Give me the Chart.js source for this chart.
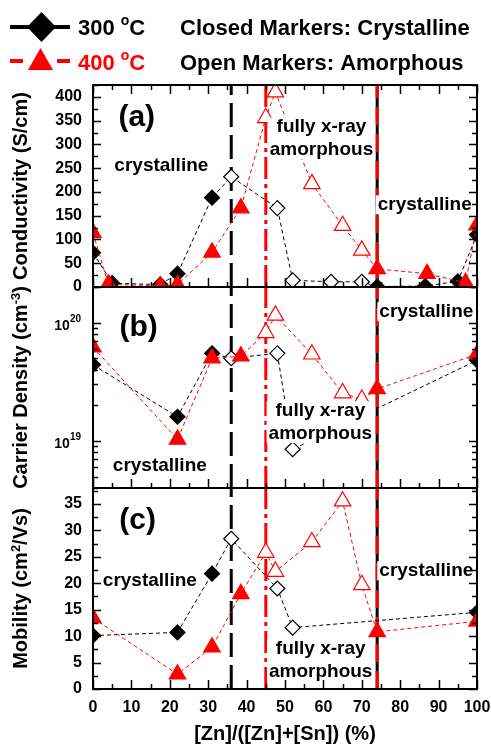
<!DOCTYPE html>
<html>
<head>
<meta charset="utf-8">
<script src="https://cdn.jsdelivr.net/npm/chart.js@4.4.1/dist/chart.umd.min.js"></script>
<style>
  html, body { margin: 0; padding: 0; background: #fff; }
  #wrap { position: relative; width: 491px; height: 746px; }
  #wrap canvas { position: absolute; left: 0; top: 0; }
</style>
</head>
<body>
<div id="wrap">
  <canvas id="panelA" width="491" height="746"></canvas>
  <canvas id="panelB" width="491" height="746"></canvas>
  <canvas id="panelC" width="491" height="746"></canvas>
</div>
<script>
const FONT = 'Arial, "Liberation Sans", sans-serif';
const RED = "#ff0000";
const BLACK = "#000000";

// [Zn]/([Zn]+[Sn]) in % for the conductivity series
const zn300 = [0, 5, 17.5, 22, 31, 36, 48, 52, 62, 70, 74, 86.5, 95, 100];
const zn400 = [0, 4, 17.5, 22, 31, 38.5, 45, 47.5, 57, 65, 70, 74, 87, 97, 100];
const conductivity300 = [72, 8, 5, 28, 188, 232, 166, 14, 11, 11, 1, 2, 12, 110];
const conductivity400 = [114, 6, 2, 5, 73, 166, 356, 410, 217, 129, 77, 38, 28, 9, 130];
// c = crystalline (closed marker), a = amorphous (open marker)
const phase300 = ["c", "c", "c", "c", "c", "a", "a", "a", "a", "a", "c", "c", "c", "c"];
const phase400 = ["c", "c", "c", "c", "c", "c", "a", "a", "a", "a", "a", "c", "c", "c", "c"];

// Hall samples
const znHall300 = [0, 22, 31, 36, 48, 52, 100];
const znHall400 = [0, 22, 31, 38.5, 45, 47.5, 57, 65, 70, 74, 100];
const density300 = [4.4e19, 1.6e19, 5.5e19, 5.0e19, 5.5e19, 8.5e18, 4.8e19];
const density400 = [6.2e19, 1.03e19, 5.0e19, 5.2e19, 8.2e19, 1.15e20, 5.4e19, 2.54e19, 2.24e19, 2.75e19, 5.4e19];
const mobility300 = [10.1, 10.7, 21.8, 28.4, 19.0, 11.6, 14.5];
const mobility400 = [13.4, 2.8, 7.9, 18.0, 25.8, 22.2, 27.8, 35.5, 19.7, 10.8, 12.8];
const phaseHall300 = ["c", "c", "c", "a", "a", "a", "c"];
const phaseHall400 = ["c", "c", "c", "c", "a", "a", "a", "a", "a", "c", "c"];

// phase boundaries (%)
const boundary300 = 36;
const boundary400 = 45;
const boundaryHigh = 74;

const xTicks = [0, 10, 20, 30, 40, 50, 60, 70, 80, 90, 100];

function points(xs, ys) {
  return xs.map((x, i) => ({ x: x, y: ys[i] }));
}

function series(xs, ys, phases, color, style, radius) {
  return {
    data: points(xs, ys),
    borderColor: color,
    borderWidth: 1,
    borderDash: [4, 3],
    pointStyle: style,
    pointRadius: radius,
    pointBorderWidth: 1.2,
    pointBorderColor: color,
    pointBackgroundColor: phases.map((p) => (p === "a" ? "#ffffff" : color)),
    tension: 0
  };
}

function vline(x, yMin, yMax, color, dash) {
  return {
    data: [{ x: x, y: yMin }, { x: x, y: yMax }],
    borderColor: color,
    borderWidth: 3,
    borderDash: dash,
    pointRadius: 0
  };
}

// text with superscript runs: [[text, isSup], ...]
function drawRuns(ctx, runs, x, y, size, supSize, supRise, align, color) {
  const widths = runs.map(([t, sup]) => {
    ctx.font = `bold ${sup ? supSize : size}px ${FONT}`;
    return ctx.measureText(t).width;
  });
  const total = widths.reduce((a, b) => a + b, 0);
  let cx = align === "center" ? x - total / 2 : align === "right" ? x - total : x;
  ctx.fillStyle = color || BLACK;
  ctx.textAlign = "left";
  ctx.textBaseline = "alphabetic";
  runs.forEach(([t, sup], i) => {
    ctx.font = `bold ${sup ? supSize : size}px ${FONT}`;
    ctx.fillText(t, cx, sup ? y - supRise : y);
    cx += widths[i];
  });
}

function drawLegend(ctx) {
  ctx.save();
  // 300 C: solid line with diamond
  ctx.strokeStyle = BLACK;
  ctx.lineWidth = 4;
  ctx.beginPath();
  ctx.moveTo(10, 27);
  ctx.lineTo(70, 27);
  ctx.stroke();
  ctx.fillStyle = BLACK;
  ctx.beginPath();
  ctx.moveTo(41.5, 12);
  ctx.lineTo(56, 27);
  ctx.lineTo(41.5, 42);
  ctx.lineTo(27, 27);
  ctx.closePath();
  ctx.fill();
  // 400 C: dashed red line with triangle
  ctx.strokeStyle = RED;
  ctx.beginPath();
  ctx.moveTo(10, 61);
  ctx.lineTo(23, 61);
  ctx.moveTo(57, 61);
  ctx.lineTo(70, 61);
  ctx.stroke();
  ctx.fillStyle = RED;
  ctx.beginPath();
  ctx.moveTo(40.5, 48);
  ctx.lineTo(53, 70);
  ctx.lineTo(28, 70);
  ctx.closePath();
  ctx.fill();

  drawRuns(ctx, [["300 ", false], ["o", true], ["C", false]], 78, 35, 22, 14, 10, "left", BLACK);
  drawRuns(ctx, [["400 ", false], ["o", true], ["C", false]], 78, 70, 22, 14, 10, "left", RED);
  drawRuns(ctx, [["Closed Markers: Crystalline", false]], 180, 35, 22, 14, 0, "left", BLACK);
  drawRuns(ctx, [["Open Markers: Amorphous", false]], 180, 70, 22, 14, 0, "left", BLACK);
  ctx.restore();
}

function decorPlugin(cfg) {
  return {
    id: "decor_" + cfg.id,
    afterDatasetsDraw(chart) {
      const { ctx, scales } = chart;
      ctx.save();
      cfg.labels.forEach((lab) => {
        const px = scales.x.getPixelForValue(lab.x);
        const py = scales.y.getPixelForValue(lab.y);
        const size = lab.size;
        const lineGap = size * 1.2;
        ctx.font = `bold ${size}px ${FONT}`;
        const w = Math.max(...lab.lines.map((l) => ctx.measureText(l).width));
        const firstCenter = py - (lineGap * (lab.lines.length - 1)) / 2;
        if (lab.box) {
          ctx.fillStyle = "#ffffff";
          ctx.fillRect(px - w / 2 - 2, firstCenter - size * 0.52,
            w + 4, lineGap * (lab.lines.length - 1) + size * 1.0);
        }
        lab.lines.forEach((l, i) => {
          drawRuns(ctx, [[l, false]], px, firstCenter + i * lineGap + size * 0.27, size, size, 0, "center", BLACK);
        });
      });
      ctx.restore();
    },
    afterDraw(chart) {
      const { ctx, chartArea: a, scales } = chart;
      const xs = scales.x;
      const ys = scales.y;
      ctx.save();
      ctx.strokeStyle = BLACK;
      ctx.lineWidth = 1.5;

      // x tick marks, inward
      const xMarks = [];
      xTicks.forEach((v, i) => {
        xMarks.push([v, true]);
        if (i < xTicks.length - 1) xMarks.push([(v + xTicks[i + 1]) / 2, false]);
      });
      ctx.beginPath();
      xMarks.forEach(([v, major]) => {
        const px = Math.round(xs.getPixelForValue(v)) + 0.5;
        const len = major ? 9 : 5;
        ctx.moveTo(px, a.bottom);
        ctx.lineTo(px, a.bottom - len);
        if (cfg.topTicks) {
          ctx.moveTo(px, a.top);
          ctx.lineTo(px, a.top + len);
        }
      });

      // y tick marks, inward on both sides
      const yMarks = [];
      if (cfg.yType === "logarithmic") {
        for (let d = 18; d <= 20; d++) {
          for (let m = 1; m <= 9; m++) {
            const v = m * Math.pow(10, d);
            if (v >= cfg.yMin && v <= cfg.yMax) yMarks.push([v, m === 1]);
          }
        }
      } else {
        for (let v = 0; v <= cfg.yMax + 1e-9; v += cfg.yStep / 2) {
          yMarks.push([v, Math.abs(v / cfg.yStep - Math.round(v / cfg.yStep)) < 1e-6]);
        }
      }
      yMarks.forEach(([v, major]) => {
        const py = Math.round(ys.getPixelForValue(v)) + 0.5;
        const len = major ? 8 : 5;
        ctx.moveTo(a.left, py);
        ctx.lineTo(a.left + len, py);
        ctx.moveTo(a.right, py);
        ctx.lineTo(a.right - len, py);
      });
      ctx.stroke();

      // frame
      ctx.lineWidth = 2;
      ctx.strokeRect(a.left, a.top, a.right - a.left, a.bottom - a.top);

      // log tick labels with superscript exponents
      if (cfg.yType === "logarithmic") {
        yMarks.filter((m) => m[1]).forEach(([v]) => {
          const py = ys.getPixelForValue(v);
          const exp = String(Math.round(Math.log10(v)));
          drawRuns(ctx, [["10", false], [exp, true]], 81, py + 7, 14, 10, 8, "right", BLACK);
        });
      }

      // y axis title, rotated
      ctx.translate(27, (a.top + a.bottom) / 2);
      ctx.rotate(-Math.PI / 2);
      drawRuns(ctx, cfg.title, 0, 0, 20, 13, 7, "center", BLACK);
      ctx.setTransform(1, 0, 0, 1, 0, 0);

      if (cfg.legend) drawLegend(ctx);
      ctx.restore();
    }
  };
}

function buildPanel(cfg) {
  const tickFont = { family: FONT, size: 16, weight: "bold" };
  const xScale = {
    type: "linear",
    min: 0,
    max: 100,
    display: cfg.showX,
    grid: { display: false, drawTicks: false },
    border: { display: false },
    ticks: { stepSize: 10, font: tickFont, color: BLACK, padding: 9, maxRotation: 0 },
    title: {
      display: cfg.showX,
      text: "[Zn]/([Zn]+[Sn]) (%)",
      font: { family: FONT, size: 20, weight: "bold" },
      color: BLACK,
      padding: { top: 0, bottom: 0 }
    },
    afterFit: (s) => {
      // keep the plot edges identical in all three panels
      s.paddingLeft = 0;
      s.paddingRight = 0;
      if (cfg.showX) s.height = 57;
    }
  };

  return new Chart(document.getElementById(cfg.id), {
    type: "line",
    data: {
      datasets: [
        series(cfg.x400, cfg.y400, cfg.phase400, RED, "triangle", 9.5),
        series(cfg.x300, cfg.y300, cfg.phase300, BLACK, "rectRot", 7.5),
        vline(boundaryHigh, cfg.yMin, cfg.yMax, RED, [18, 9]),
        vline(boundaryHigh, cfg.yMin, cfg.yMax, BLACK, []),
        vline(boundary400, cfg.yMin, cfg.yMax, RED, [22, 5, 4, 5]),
        vline(boundary300, cfg.yMin, cfg.yMax, BLACK, [24, 8])
      ]
    },
    options: {
      responsive: false,
      animation: false,
      events: [],
      layout: { padding: { top: cfg.top, bottom: cfg.bottom, left: 0, right: 14 } },
      plugins: { legend: { display: false }, tooltip: { enabled: false } },
      scales: {
        x: xScale,
        y: {
          type: cfg.yType,
          min: cfg.yMin,
          max: cfg.yMax,
          grid: { display: false, drawTicks: false },
          border: { display: false },
          ticks: {
            display: cfg.yType === "linear",
            stepSize: cfg.yStep,
            includeBounds: false,
            font: tickFont,
            color: BLACK,
            padding: 11
          },
          afterFit: (s) => {
            s.width = 93;
            s.paddingTop = 0;
            s.paddingBottom = 0;
          }
        }
      }
    },
    plugins: [decorPlugin(cfg)]
  });
}

buildPanel({
  id: "panelA",
  top: 85,
  bottom: 459,
  showX: false,
  topTicks: true,
  legend: true,
  yType: "linear",
  yMin: 0,
  yMax: 425,
  yStep: 50,
  x300: zn300, y300: conductivity300, phase300: phase300,
  x400: zn400, y400: conductivity400, phase400: phase400,
  title: [["Conductivity (S/cm)", false]],
  labels: [
    { lines: ["(a)"], x: 11.4, y: 355, size: 30, box: false },
    { lines: ["crystalline"], x: 17.8, y: 254, size: 19, box: true },
    { lines: ["fully x-ray", "amorphous"], x: 59.5, y: 312, size: 19, box: true },
    { lines: ["crystalline"], x: 86.4, y: 172, size: 19, box: true }
  ]
});

buildPanel({
  id: "panelB",
  top: 287,
  bottom: 258,
  showX: false,
  topTicks: false,
  legend: false,
  yType: "logarithmic",
  yMin: 4e18,
  yMax: 2e20,
  x300: znHall300, y300: density300, phase300: phaseHall300,
  x400: znHall400, y400: density400, phase400: phaseHall400,
  title: [["Carrier Density (cm", false], ["-3", true], [")", false]],
  labels: [
    { lines: ["(b)"], x: 11.9, y: 9.1e19, size: 30, box: false },
    { lines: ["crystalline"], x: 86.8, y: 1.23e20, size: 19, box: true },
    { lines: ["crystalline"], x: 17.4, y: 6.1e18, size: 19, box: true },
    { lines: ["fully x-ray", "amorphous"], x: 59.2, y: 1.43e19, size: 19, box: true }
  ]
});

buildPanel({
  id: "panelC",
  top: 488,
  bottom: 0,
  showX: true,
  topTicks: false,
  legend: false,
  yType: "linear",
  yMin: 0,
  yMax: 38,
  yStep: 5,
  x300: znHall300, y300: mobility300, phase300: phaseHall300,
  x400: znHall400, y400: mobility400, phase400: phaseHall400,
  title: [["Mobility (cm", false], ["2", true], ["/Vs)", false]],
  labels: [
    { lines: ["(c)"], x: 11.6, y: 31.7, size: 30, box: false },
    { lines: ["crystalline"], x: 14.8, y: 20.4, size: 19, box: true },
    { lines: ["crystalline"], x: 86.8, y: 22.3, size: 19, box: true },
    { lines: ["fully x-ray", "amorphous"], x: 59.3, y: 5.4, size: 19, box: true }
  ]
});
</script>
</body>
</html>
